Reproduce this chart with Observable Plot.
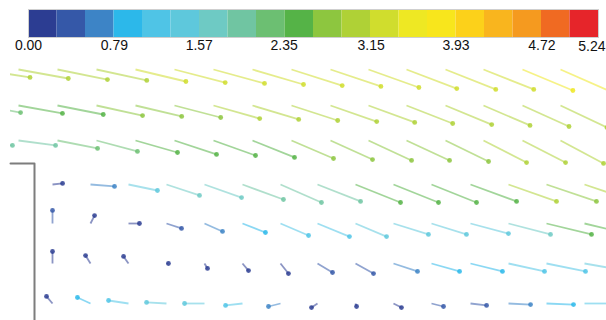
<!DOCTYPE html>
<html><head><meta charset="utf-8">
<script src="https://cdn.jsdelivr.net/npm/d3@7"></script>
<script src="https://cdn.jsdelivr.net/npm/@observablehq/plot@0.6"></script>
<style>
html,body{margin:0;padding:0;background:#fff;}
#chart svg{display:block;}
</style></head><body><div id="chart"></div>
<script>
// Colour bar
const legendTicks = [0, 0.79, 1.57, 2.35, 3.15, 3.93, 4.72, 5.24];
const speedMax = 5.24;
const bandColors = ["#2c3d92","#3558a8","#3d84c6","#2cb8ea","#4fc4e6","#5ec8dc","#6ecac4","#70c5a2",
  "#6cbf72","#55b347","#8dc63f","#afd136","#d0dd2d","#eee823","#f8e61c","#fcd11a","#f9b51e","#f59a1f","#f06a22","#e6252a"];

// Grid (mm): tail positions of the vectors
const topX = [-3.0, 0.8, 4.7, 8.6, 12.5, 16.4, 20.3, 24.2, 28.1, 32.0, 35.8, 39.6, 43.5, 47.3, 51.2, 55.0];
const lowX = [4.2, 8.0, 11.8, 15.6, 19.4, 23.2, 27.0, 30.7, 34.5, 38.3, 42.1, 46.0, 49.8, 53.6, 57.4];
const rowY = [25.1, 21.5, 18.0, 13.6, 9.7, 5.7, 1.7];

// Step geometry (mm)
const stepX = [0, 2.4, 2.4];
const stepY = [15.7, 15.7, 0];

// In-plane velocity components u, v (m/s) and velocity magnitude s (m/s), per row
const u1 = [3.30,3.32,3.33,3.35,3.36,3.38,3.40,3.40,3.38,3.36,3.36,3.35,3.35,3.35,3.36,3.36];
const v1 = [-0.53,-0.60,-0.67,-0.73,-0.80,-0.87,-0.93,-1.00,-1.07,-1.13,-1.20,-1.27,-1.33,-1.33,-1.40,-1.47];
const s1 = [2.95,3.0,3.05,3.1,3.15,3.2,3.22,3.25,3.28,3.3,3.32,3.35,3.38,3.4,3.45,3.45];

const u2 = [2.67,2.93,3.05,3.07,3.08,3.08,3.08,3.08,3.08,3.08,3.08,3.08,3.08,3.10,3.10,3.10];
const v2 = [-0.47,-0.53,-0.60,-0.67,-0.73,-0.80,-0.87,-0.93,-1.00,-1.07,-1.13,-1.20,-1.27,-1.33,-1.40,-1.47];
const s2 = [2.1,2.4,2.6,2.7,2.8,2.85,2.9,2.95,3.0,3.0,3.05,3.05,3.1,3.1,3.1,3.1];

const u3 = [2.13,2.47,2.67,2.73,2.80,2.80,2.80,2.80,2.80,2.80,2.87,2.87,2.87,2.87,2.87,2.87];
const v3 = [-0.33,-0.33,-0.53,-0.73,-0.80,-0.93,-1.00,-1.13,-1.20,-1.27,-1.33,-1.33,-1.40,-1.47,-1.47,-1.53];
const s3 = [1.95,2.0,2.15,2.3,2.4,2.5,2.55,2.6,2.65,2.7,2.75,2.8,2.85,2.9,2.9,2.95];

const u4 = [0.67,1.60,1.93,2.20,2.47,2.73,2.73,2.87,3.00,3.00,3.00,3.07,3.20,3.33,3.33];
const v4 = [0.07,-0.13,-0.40,-0.73,-0.87,-1.00,-1.20,-1.13,-1.20,-1.20,-1.20,-1.13,-1.13,-1.13,-1.13];
const s4 = [0.2,0.7,1.5,1.65,1.8,2.0,1.85,1.9,2.45,2.5,2.55,2.6,2.9,2.8,2.9];

const u5 = [0,0.27,0.73,1.00,1.20,1.53,1.87,2.13,2.07,2.33,2.33,2.53,2.80,3.00,3.07];
const v5 = [0.87,0.53,0,-0.33,-0.53,-0.60,-0.80,-0.87,-0.87,-0.73,-0.73,-0.67,-0.73,-0.73,-0.73];
const s5 = [0.3,0.15,0.25,0.4,0.6,0.9,1.1,1.3,1.35,1.4,1.45,1.5,1.6,2.4,2.4];

const u6 = [0,-0.33,-0.33,0.13,0.20,0.40,0.53,1.00,1.20,1.60,1.87,2.13,2.40,2.60,2.67];
const v6 = [0.80,0.53,0.47,0,-0.33,-0.47,-0.67,-0.60,-0.67,-0.53,-0.53,-0.53,-0.53,-0.53,-0.47];
const s6 = [0.2,0.15,0.12,0.05,0.1,0.15,0.2,0.35,0.45,0.65,0.85,1.0,1.15,1.3,1.35];

const u7 = [-0.40,-0.87,-1.33,-1.33,-1.33,-1.13,-0.80,-0.40,0.07,0.53,0.80,1.07,1.47,1.80,1.87];
const v7 = [0.47,0.40,0.20,0.07,0,-0.13,-0.20,-0.27,-0.20,-0.27,-0.20,-0.13,-0.07,-0.07,0];
const s7 = [0.15,0.9,1.3,1.5,1.5,1.3,0.7,0.2,0.05,0.15,0.3,0.45,0.7,1.0,1.1];

const arrowScale = 1.5; // mm of arrow per m/s

const rows = [
  {x: topX, y: rowY[0], u: u1, v: v1, s: s1},
  {x: topX, y: rowY[1], u: u2, v: v2, s: s2},
  {x: topX, y: rowY[2], u: u3, v: v3, s: s3},
  {x: lowX, y: rowY[3], u: u4, v: v4, s: s4},
  {x: lowX, y: rowY[4], u: u5, v: v5, s: s5},
  {x: lowX, y: rowY[5], u: u6, v: v6, s: s6},
  {x: lowX, y: rowY[6], u: u7, v: v7, s: s7}
];
const vectors = rows.flatMap(r => r.x.map((x, i) => ({
  x, y: r.y,
  x2: x + arrowScale * r.u[i],
  y2: r.y + arrowScale * r.v[i],
  speed: r.s[i]
})));
const step = stepX.map((x, i) => ({x, y: stepY[i]}));

const bandW = speedMax / bandColors.length;
const bands = bandColors.map((c, i) => ({x1: i * bandW, x2: (i + 1) * bandW, c}));
const thresholds = d3.range(1, bandColors.length).map(i => i * bandW);
const fmt = d3.format(".2f");

const legend = Plot.plot({
  width: 606, height: 58,
  marginTop: 9, marginBottom: 21, marginLeft: 28, marginRight: 8,
  style: {fontFamily: "'Liberation Sans', Arial, sans-serif", fontSize: "14px", color: "#111", background: "#fff", overflow: "visible"},
  x: {domain: [0, speedMax], ticks: legendTicks.slice(0, -1), tickFormat: fmt, tickSize: 0, tickPadding: 3, label: null},
  y: {domain: [0, 1], axis: null},
  color: {type: "identity"},
  marks: [
    Plot.rect(bands, {x1: "x1", x2: "x2", y1: 0, y2: 1, fill: "c"}),
    Plot.frame({stroke: "#cfcfcf", strokeWidth: 1}),
    Plot.text(legendTicks.slice(-1), {x: d => d, y: 0, text: d => fmt(d), textAnchor: "end", lineAnchor: "top", dx: 7, dy: 3.5, fontSize: 14, fill: "#111"})
  ]
});

const main = Plot.plot({
  width: 606, height: 262,
  marginTop: 0, marginBottom: 0, marginLeft: 10, marginRight: 0,
  style: {background: "#fff", overflow: "hidden"},
  x: {domain: [0, 59.6], axis: null},
  y: {domain: [0, 26.2], axis: null},
  color: {type: "threshold", domain: thresholds, range: bandColors},
  marks: [
    Plot.link(vectors, {x1: "x", y1: "y", x2: "x2", y2: "y2", stroke: "speed", strokeWidth: 1.8, strokeOpacity: 0.55, clip: true}),
    Plot.dot(vectors, {x: "x2", y: "y2", r: 2.4, fill: "speed", fillOpacity: 0.85, clip: true}),
    Plot.line(step, {x: "x", y: "y", stroke: "#7d7d7d", strokeWidth: 2})
  ]
});

const el = document.getElementById("chart");
el.appendChild(legend);
el.appendChild(main);
</script></body></html>
